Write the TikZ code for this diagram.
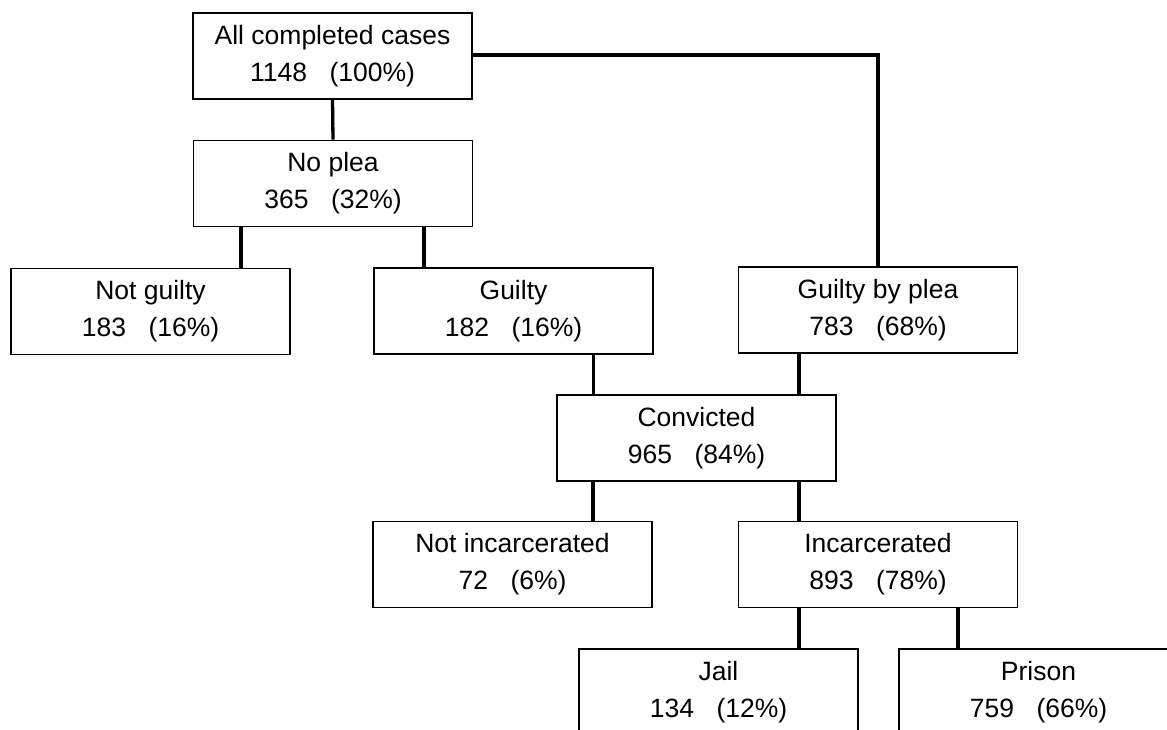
\documentclass[tikz,border=0pt]{standalone}
\usepackage{fontspec}
\setmainfont{Liberation Sans}
\usetikzlibrary{positioning}
\begin{document}
\begin{tikzpicture}[x=1pt,y=-1pt,
  box/.style={draw, line width=1.8pt, minimum width=279pt, minimum height=86pt,
    inner sep=0pt, align=center, font={\fontsize{26.5pt}{37pt}\selectfont}},
  link/.style={line width=3.3pt}]
\useasboundingbox (0,0) rectangle (1167,729);
\fill[white] (0,0) rectangle (1167,729);
\clip (0,0) rectangle (1167,729);
\newcommand{\gp}{\hspace{0.85em}}
\node[box] (all) at (332.5,56) {All completed cases\\1148\gp(100\%)};
\node[box] (noplea) at (333,183.5) {No plea\\365\gp(32\%)};
\node[box] (notg) at (150.5,311.5) {Not guilty\\183\gp(16\%)};
\node[box] (guilty) at (513.5,311) {Guilty\\182\gp(16\%)};
\node[box] (gbp) at (878,310) {Guilty by plea\\783\gp(68\%)};
\node[box] (conv) at (696.5,438) {Convicted\\965\gp(84\%)};
\node[box] (notinc) at (512.5,564.5) {Not incarcerated\\72\gp(6\%)};
\node[box] (inc) at (878,564.5) {Incarcerated\\893\gp(78\%)};
\node[box] (jail) at (718.5,692) {Jail\\134\gp(12\%)};
\node[box] (prison) at (1038.5,692) {Prison\\759\gp(66\%)};
% connectors
\draw[link] (all.south) -- (noplea.north);
\draw[link] ([yshift=1pt]all.east) -| (gbp.north);
\draw[link] ([xshift=-92pt]noplea.south) -- ([xshift=-92pt]noplea.south |- notg.north);
\draw[link] ([xshift=91pt]noplea.south) -- ([xshift=91pt]noplea.south |- guilty.north);
\draw[link] ([xshift=80pt]guilty.south) -- ([xshift=80pt]guilty.south |- conv.north);
\draw[link] ([xshift=-79pt]gbp.south) -- ([xshift=-79pt]gbp.south |- conv.north);
\draw[link] ([xshift=-103.5pt]conv.south) -- ([xshift=-103.5pt]conv.south |- notinc.north);
\draw[link] ([xshift=102.5pt]conv.south) -- ([xshift=102.5pt]conv.south |- inc.north);
\draw[link] ([xshift=-79pt]inc.south) -- ([xshift=-79pt]inc.south |- jail.north);
\draw[link] ([xshift=80pt]inc.south) -- ([xshift=80pt]inc.south |- prison.north);
\end{tikzpicture}
\end{document}
